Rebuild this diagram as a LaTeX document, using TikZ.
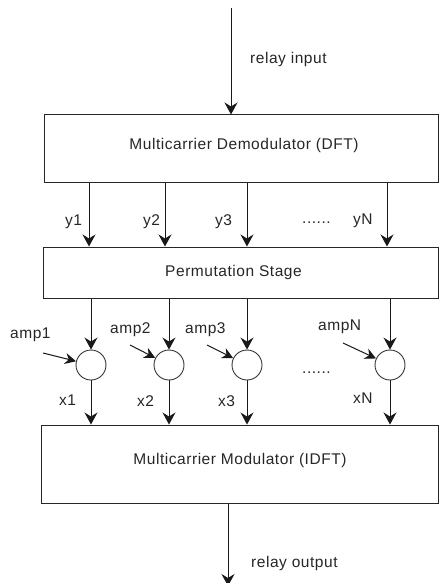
\documentclass[tikz,border=0pt]{standalone}
\usepackage{fontspec}
\setmainfont[LetterSpace=3.5]{Liberation Sans}
\usetikzlibrary{arrows.meta}
\begin{document}
\begin{tikzpicture}[x=1pt,y=-1pt,
  font=\fontsize{15.5}{18}\selectfont,
  every node/.style={text=black!85},
  box/.style={draw=black!85,line width=1pt,rectangle,inner sep=0pt},
  amp/.style={draw=black!80,line width=0.9pt,circle,minimum size=30pt,inner sep=0pt},
  arr/.style={draw=black!90,line width=1pt,-{Stealth[length=12pt,width=13pt,inset=4pt]}},
  lbl/.style={anchor=base west,inner sep=0pt}]
\useasboundingbox (0,0) rectangle (439,583);
\clip (0,0) rectangle (439,583);
% boxes
\node[box,minimum width=394pt,minimum height=67pt] (dft) at (241,148.5) {};
\node (dfttxt) at (244,145) {Multicarrier Demodulator (DFT)};
\node[box,minimum width=395pt,minimum height=51pt] (perm) at (240.5,272.5) {};
\node (permtxt) at (233.5,272) {Permutation Stage};
\node[box,minimum width=397pt,minimum height=78pt] (mod) at (239.5,464) {};
\node (modtxt) at (240,460) {Multicarrier Modulator (IDFT)};
% input / output
\coordinate (in) at (231,8);
\coordinate (out) at (228,586);
\draw[arr] (in) -- (in |- dft.north);
\draw[arr] (out |- mod.south) -- (out);
\node[lbl] (inl) at (250,64) {relay input};
\node[lbl] (outl) at (251,567) {relay output};
% y branches
\foreach \i/\x in {1/89,2/165,3/247,4/387}{
  \coordinate (yc\i) at (\x,0);
  \draw[arr] (yc\i |- dft.south) -- (yc\i |- perm.north);
}
\node[lbl] (y1) at (65,225) {y1};
\node[lbl] (y2) at (143,225) {y2};
\node[lbl] (y3) at (215,225) {y3};
\node[lbl] (yN) at (353,224) {yN};
\node[lbl] (ydots) at (302,223) {......};
% amplifiers
\node[amp] (c1) at (91,365) {};
\node[amp] (c2) at (169,365) {};
\node[amp] (c3) at (247,365) {};
\node[amp] (c4) at (390,365) {};
\foreach \i in {1,2,3,4}{
  \draw[arr] (c\i |- perm.south) -- (c\i.north);
  \draw[arr] (c\i.south) -- (c\i |- mod.north);
}
\coordinate (a1) at (43,353);
\coordinate (a2) at (130,345);
\coordinate (a3) at (207,345);
\coordinate (a4) at (343,343);
\foreach \i in {1,2,3,4}{
  \draw[arr,-{Stealth[length=11pt,width=11pt,inset=3.5pt]}] (a\i) -- (c\i);
}
\node[lbl] (amp1) at (10,338) {amp1};
\node[lbl] (amp2) at (110,333) {amp2};
\node[lbl] (amp3) at (185,333) {amp3};
\node[lbl] (ampN) at (318,330) {ampN};
\node[lbl] (cdots) at (302,373) {......};
\node[lbl] (x1) at (59,405) {x1};
\node[lbl] (x2) at (137,406) {x2};
\node[lbl] (x3) at (218,406) {x3};
\node[lbl] (xN) at (353,403) {xN};
\end{tikzpicture}
\end{document}
